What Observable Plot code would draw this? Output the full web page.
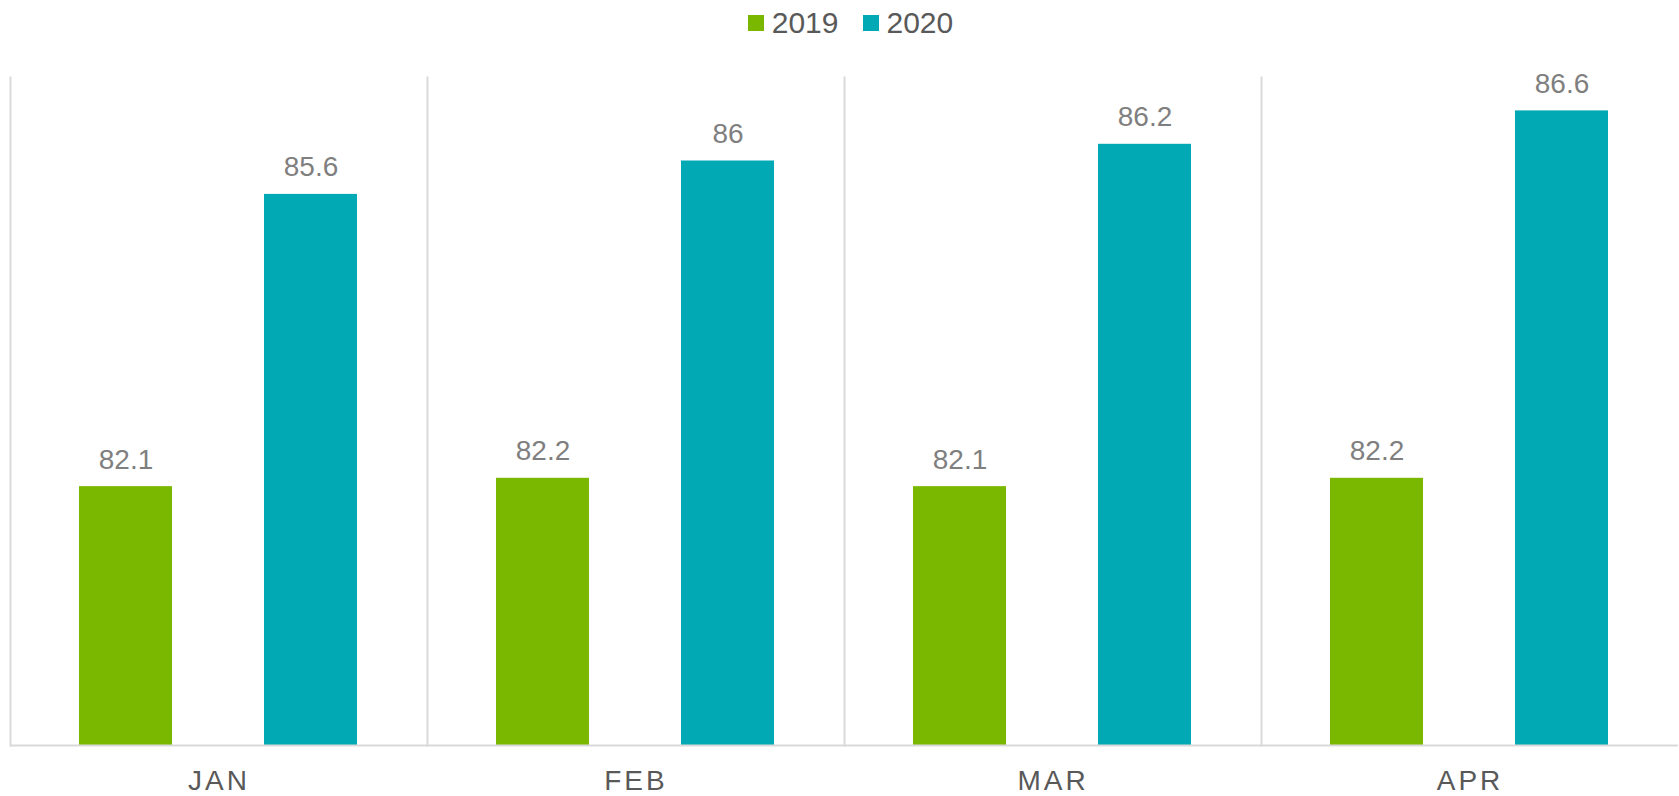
<!DOCTYPE html>
<html>
<head>
<meta charset="utf-8">
<script src="https://cdn.jsdelivr.net/npm/d3@7"></script>
<script src="https://cdn.jsdelivr.net/npm/@observablehq/plot@0.6"></script>
<style>
  html, body { margin: 0; padding: 0; background: #fff; overflow: hidden; }
  body { width: 1679px; height: 796px; font-family: "Liberation Sans", Arial, sans-serif; }
  #legend { height: 40px; display: flex; justify-content: center; align-items: flex-start; padding-left: 22px; box-sizing: border-box; }
  .item { display: flex; align-items: center; margin: 0 12px; height: 46px; }
  .sw { width: 16px; height: 16px; margin-right: 8px; }
  .lab { font-size: 30px; color: #595959; line-height: 46px; }
  [aria-label^="fx-axis"] text { letter-spacing: 3px; }
</style>
</head>
<body>
<div id="legend"></div>
<div id="chart"></div>
<script>
const months = ["JAN", "FEB", "MAR", "APR"];
const years = ["2019", "2020"];
const values2019 = [82.1, 82.2, 82.1, 82.2];
const values2020 = [85.6, 86, 86.2, 86.6];
const colors = ["#7AB800", "#00A9B4"];
const yDomain = [79, 87];

const series = [values2019, values2020];
const data = [];
months.forEach((m, i) => {
  years.forEach((y, j) => data.push({month: m, year: y, value: series[j][i]}));
});

const legend = document.getElementById("legend");
years.forEach((y, j) => {
  const it = document.createElement("div");
  it.className = "item";
  it.innerHTML = `<div class="sw" style="background:${colors[j]}"></div><span class="lab">${y}</span>`;
  legend.appendChild(it);
});

const chart = Plot.plot({
  width: 1679,
  height: 756,
  marginLeft: 9,
  marginRight: 0,
  marginTop: 37,
  marginBottom: 51,
  style: {fontFamily: "'Liberation Sans', Arial, sans-serif", background: "#fff"},
  fx: {domain: months, padding: 0, label: null, axis: "bottom", tickSize: 0, tickPadding: 25, fontSize: 28},
  x: {domain: years, axis: null, paddingInner: 0.497, paddingOuter: 0.373},
  y: {domain: yDomain, axis: null, clamp: true},
  color: {domain: years, range: colors},
  marks: [
    Plot.barY(data, {fx: "month", x: "year", y: "value", fill: "year"}),
    Plot.frame({anchor: "left", stroke: "#d9d9d9", strokeWidth: 2}),
    Plot.ruleY([yDomain[0]], {stroke: "#d9d9d9", strokeWidth: 2}),
    Plot.text(data, {fx: "month", x: "year", y: "value", text: d => String(d.value), lineAnchor: "bottom", dy: -18, fontSize: 28, fill: "#7f7f7f"})
  ]
});
chart.querySelectorAll('[aria-label^="fx-axis"] text').forEach(t => { t.style.fill = "#595959"; t.style.fontSize = "28px"; });
document.getElementById("chart").appendChild(chart);
</script>
</body>
</html>
